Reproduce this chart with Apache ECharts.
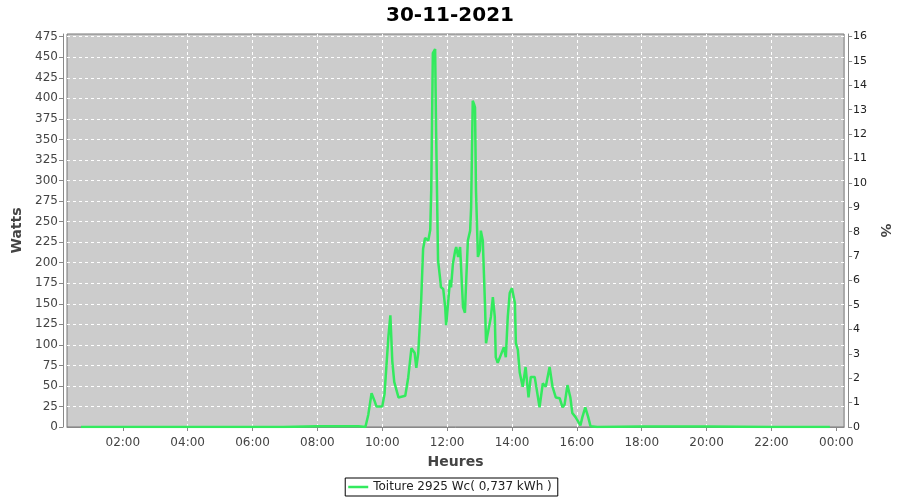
<!DOCTYPE html>
<html>
<head>
<meta charset="utf-8">
<script src="https://cdn.jsdelivr.net/npm/echarts@6/dist/echarts.min.js"></script>
<style>html,body{margin:0;padding:0;background:#fff;}#c{width:900px;height:500px;}</style>
</head>
<body>
<div id="c"></div>
<script>
// hours of day
const hours = [0.71, 3, 5, 6.95, 7.0, 8, 9.27, 9.48, 9.57, 9.67, 9.76, 9.82, 10.0, 10.07, 10.13, 10.19, 10.25, 10.31, 10.37, 10.5, 10.71, 10.8, 10.9, 11.0, 11.05, 11.11, 11.2, 11.26, 11.32, 11.42, 11.48, 11.51, 11.56, 11.6, 11.63, 11.66, 11.72, 11.78, 11.81, 11.88, 11.94, 11.97, 12.03, 12.09, 12.12, 12.18, 12.25, 12.28, 12.34, 12.4, 12.49, 12.55, 12.58, 12.64, 12.71, 12.74, 12.79, 12.83, 12.86, 12.89, 12.95, 13.01, 13.04, 13.1, 13.17, 13.2, 13.23, 13.29, 13.35, 13.41, 13.47, 13.5, 13.56, 13.63, 13.69, 13.75, 13.81, 13.87, 13.93, 14.0, 14.09, 14.12, 14.18, 14.24, 14.33, 14.42, 14.51, 14.58, 14.7, 14.76, 14.85, 14.95, 15.04, 15.16, 15.25, 15.35, 15.47, 15.56, 15.62, 15.71, 15.8, 15.86, 15.96, 16.02, 16.11, 16.17, 16.26, 16.35, 16.42, 16.63, 18, 20, 22, 23.8];
const watts = [0, 0, 0, 0, 1, 1, 1, 0, 15, 41, 32, 25, 25, 40, 75, 110, 136, 80, 55, 36, 38, 60, 96, 90, 72, 90, 154, 217, 230, 227, 240, 288, 455, 457, 460, 361, 203, 182, 170, 168, 146, 124, 151, 179, 170, 199, 215, 219, 207, 219, 146, 139, 170, 227, 239, 267, 397, 393, 389, 288, 207, 215, 239, 227, 146, 102, 109, 109, 134, 158, 134, 85, 78, 85, 85, 97, 85, 134, 163, 169, 151, 102, 94, 66, 49, 73, 36, 61, 61, 63, 24, 53, 49, 73, 49, 36, 35, 24, 27, 51, 36, 17, 12, 12, 2, 12, 24, 12, 1, 0, 0.5, 0.5, 0, 0];
const xTicks = [2, 4, 6, 8, 10, 12, 14, 16, 18, 20, 22, 24];
const title = '30-11-2021';
const seriesName = 'Toiture 2925 Wc( 0,737 kWh )';

const pts = hours.map((h, i) => [h, watts[i]]);
const font = 'DejaVu Sans';
const fmtH = v => { const h = Math.round(v) % 24; return (h < 10 ? '0' : '') + h + ':00'; };

const chart = echarts.init(document.getElementById('c'), null, {renderer: 'canvas'});
chart.setOption({
  animation: false,
  backgroundColor: '#ffffff',
  textStyle: {fontFamily: font},
  title: {text: title, left: 'center', top: 1,
    textStyle: {fontFamily: font, fontSize: 20, fontWeight: 'bold', color: '#000'}},
  grid: {left: 67, right: 52, top: 34, bottom: 73, show: true,
    backgroundColor: '#cccccc', borderColor: '#777777', borderWidth: 1},
  legend: {top: 478, left: 'center', padding: [3, 6, 3, 3], borderColor: '#000', borderWidth: 1,
    icon: 'rect', itemWidth: 20, itemHeight: 2.5, itemGap: 4,
    textStyle: {fontFamily: font, fontSize: 12, color: '#222'},
    data: [seriesName]},
  xAxis: {type: 'value', min: 0.28, max: 24.24, offset: 4,
    name: 'Heures', nameLocation: 'middle', nameGap: 24,
    nameTextStyle: {fontFamily: font, fontSize: 14, fontWeight: 'bold', color: '#444'},
    axisLine: {show: true, lineStyle: {color: '#888'}},
    axisTick: {show: true, customValues: xTicks, length: 4, lineStyle: {color: '#888'}},
    axisLabel: {customValues: xTicks, formatter: fmtH, fontFamily: font, fontSize: 12, color: '#444', margin: 6},
    splitLine: {show: true, showMinLine: false, showMaxLine: false,
      lineStyle: {color: '#ffffff', type: [3, 3], width: 1}}},
  yAxis: [
    {type: 'value', min: 0, max: 478.3, interval: 25, offset: 4,
      name: 'Watts', nameLocation: 'middle', nameGap: 38,
      nameTextStyle: {fontFamily: font, fontSize: 14, fontWeight: 'bold', color: '#444'},
      axisLine: {show: true, lineStyle: {color: '#888'}},
      axisTick: {show: true, length: 4, lineStyle: {color: '#888'}},
      axisLabel: {fontFamily: font, fontSize: 12, color: '#444', margin: 5},
      splitLine: {show: true, showMinLine: false, showMaxLine: false,
        lineStyle: {color: '#ffffff', type: [3, 3], width: 1}}},
    {type: 'value', min: 0, max: 16.1, interval: 1, offset: 4, position: 'right',
      name: '%', nameLocation: 'middle', nameGap: 26, nameRotate: -90,
      nameTextStyle: {fontFamily: font, fontSize: 14, fontWeight: 'bold', color: '#444'},
      axisLine: {show: true, lineStyle: {color: '#888'}},
      axisTick: {show: true, length: 4, lineStyle: {color: '#888'}},
      axisLabel: {fontFamily: font, fontSize: 11, color: '#222', margin: 5},
      splitLine: {show: false}}
  ],
  series: [{name: seriesName, type: 'line', data: pts, yAxisIndex: 0, showSymbol: false, symbol: 'none',
    lineStyle: {color: '#33ea5e', width: 2.5}, itemStyle: {color: '#33ea5e'}}]
});
</script>
</body>
</html>
